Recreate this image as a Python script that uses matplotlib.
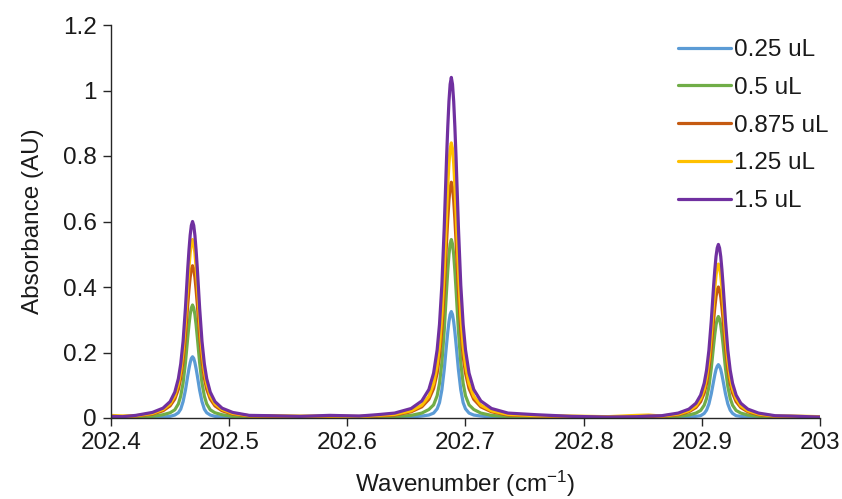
import matplotlib
matplotlib.use("Agg")
import matplotlib.pyplot as plt
from matplotlib.ticker import FuncFormatter

plt.rcParams['font.family'] = ['Liberation Sans', 'DejaVu Sans']
plt.rcParams['mathtext.default'] = 'regular'

# Wavenumber sample points (cm-1)
wavenumber = [
    202.400, 202.410,
    202.421, 202.435, 202.444, 202.450, 202.454, 202.457, 202.459, 202.461, 202.463, 202.465,
    202.466, 202.467, 202.468,
    202.469,
    202.470, 202.471, 202.472, 202.473, 202.475, 202.477, 202.479, 202.481, 202.484, 202.488,
    202.494, 202.503, 202.517,
    202.535, 202.560, 202.585, 202.610, 202.625,
    202.640, 202.654, 202.663, 202.669, 202.673, 202.676, 202.678, 202.680, 202.682, 202.684,
    202.685, 202.686, 202.687,
    202.688,
    202.689, 202.690, 202.691, 202.692, 202.694, 202.696, 202.698, 202.700, 202.703, 202.707,
    202.713, 202.722, 202.736,
    202.760, 202.790, 202.820, 202.845, 202.855,
    202.866, 202.880, 202.889, 202.895, 202.899, 202.902, 202.904, 202.906, 202.908, 202.910,
    202.911, 202.912, 202.913,
    202.914,
    202.915, 202.916, 202.917, 202.918, 202.920, 202.922, 202.924, 202.926, 202.929, 202.933,
    202.939, 202.948, 202.962,
    202.975, 202.990, 203.000,
]

abs_0_25 = [
    0.002, 0.002,
    0.001, 0.002, 0.003, 0.005, 0.009, 0.016, 0.027, 0.050, 0.085, 0.130, 0.151, 0.169, 0.182,
    0.187,
    0.182, 0.169, 0.151, 0.130, 0.085, 0.050, 0.027, 0.016, 0.009, 0.005, 0.003, 0.002, 0.001,
    0.001, 0.002, 0.003, 0.002, 0.002,
    0.002, 0.003, 0.006, 0.009, 0.015, 0.028, 0.047, 0.086, 0.148, 0.226, 0.263, 0.294, 0.316,
    0.325,
    0.316, 0.294, 0.263, 0.226, 0.148, 0.086, 0.047, 0.028, 0.015, 0.009, 0.006, 0.003, 0.002,
    0.001, 0.001, 0.001, 0.001, 0.001,
    0.001, 0.001, 0.003, 0.005, 0.007, 0.014, 0.024, 0.043, 0.074, 0.113, 0.132, 0.148, 0.158,
    0.163,
    0.158, 0.148, 0.132, 0.113, 0.074, 0.043, 0.024, 0.014, 0.007, 0.005, 0.003, 0.001, 0.001,
    0.001, 0.003, 0.002,
]

abs_0_5 = [
    0.003, 0.003,
    0.003, 0.005, 0.010, 0.016, 0.025, 0.043, 0.067, 0.107, 0.169, 0.248, 0.285, 0.316, 0.336,
    0.345,
    0.336, 0.316, 0.285, 0.248, 0.169, 0.107, 0.067, 0.043, 0.025, 0.016, 0.010, 0.005, 0.003,
    0.003, 0.003, 0.004, 0.004, 0.004,
    0.004, 0.008, 0.015, 0.026, 0.040, 0.068, 0.106, 0.169, 0.267, 0.392, 0.450, 0.499, 0.531,
    0.545,
    0.531, 0.499, 0.450, 0.392, 0.267, 0.169, 0.106, 0.068, 0.040, 0.026, 0.015, 0.008, 0.004,
    0.003, 0.002, 0.002, 0.003, 0.003,
    0.002, 0.005, 0.009, 0.015, 0.023, 0.039, 0.060, 0.096, 0.152, 0.223, 0.256, 0.284, 0.302,
    0.310,
    0.302, 0.284, 0.256, 0.223, 0.152, 0.096, 0.060, 0.039, 0.023, 0.015, 0.009, 0.005, 0.002,
    0.003, 0.002, 0.002,
]

abs_0_875 = [
    0.004, 0.005,
    0.006, 0.012, 0.022, 0.037, 0.058, 0.088, 0.122, 0.174, 0.251, 0.349, 0.393, 0.430, 0.455,
    0.465,
    0.455, 0.430, 0.393, 0.349, 0.251, 0.174, 0.122, 0.088, 0.058, 0.037, 0.022, 0.012, 0.006,
    0.005, 0.004, 0.005, 0.005, 0.006,
    0.009, 0.019, 0.034, 0.057, 0.090, 0.137, 0.189, 0.270, 0.389, 0.540, 0.608, 0.666, 0.704,
    0.720,
    0.704, 0.666, 0.608, 0.540, 0.389, 0.270, 0.189, 0.137, 0.090, 0.057, 0.034, 0.019, 0.009,
    0.006, 0.004, 0.003, 0.005, 0.005,
    0.005, 0.010, 0.019, 0.032, 0.050, 0.076, 0.105, 0.150, 0.216, 0.300, 0.338, 0.370, 0.391,
    0.400,
    0.391, 0.370, 0.338, 0.300, 0.216, 0.150, 0.105, 0.076, 0.050, 0.032, 0.019, 0.010, 0.005,
    0.004, 0.004, 0.003,
]

abs_1_25 = [
    0.008, 0.006,
    0.007, 0.014, 0.026, 0.043, 0.068, 0.104, 0.143, 0.204, 0.294, 0.409, 0.461, 0.504, 0.533,
    0.545,
    0.533, 0.504, 0.461, 0.409, 0.294, 0.204, 0.143, 0.104, 0.068, 0.043, 0.026, 0.014, 0.007,
    0.007, 0.006, 0.006, 0.004, 0.008,
    0.011, 0.022, 0.039, 0.066, 0.105, 0.160, 0.221, 0.315, 0.454, 0.630, 0.710, 0.777, 0.822,
    0.840,
    0.822, 0.777, 0.710, 0.630, 0.454, 0.315, 0.221, 0.160, 0.105, 0.066, 0.039, 0.022, 0.011,
    0.007, 0.006, 0.004, 0.008, 0.009,
    0.006, 0.012, 0.022, 0.037, 0.059, 0.089, 0.124, 0.176, 0.254, 0.353, 0.397, 0.435, 0.460,
    0.470,
    0.460, 0.435, 0.397, 0.353, 0.254, 0.176, 0.124, 0.089, 0.059, 0.037, 0.022, 0.012, 0.006,
    0.006, 0.005, 0.004,
]

abs_1_5 = [
    0.005, 0.004,
    0.008, 0.017, 0.030, 0.050, 0.079, 0.120, 0.165, 0.234, 0.336, 0.459, 0.513, 0.558, 0.588,
    0.600,
    0.588, 0.558, 0.513, 0.459, 0.336, 0.234, 0.165, 0.120, 0.079, 0.050, 0.030, 0.017, 0.008,
    0.007, 0.005, 0.008, 0.006, 0.010,
    0.015, 0.029, 0.052, 0.087, 0.137, 0.208, 0.286, 0.406, 0.582, 0.796, 0.889, 0.967, 1.019,
    1.040,
    1.019, 0.967, 0.889, 0.796, 0.582, 0.406, 0.286, 0.208, 0.137, 0.087, 0.052, 0.029, 0.015,
    0.010, 0.005, 0.003, 0.004, 0.006,
    0.007, 0.015, 0.027, 0.045, 0.070, 0.106, 0.146, 0.207, 0.297, 0.405, 0.453, 0.493, 0.519,
    0.530,
    0.519, 0.493, 0.453, 0.405, 0.297, 0.207, 0.146, 0.106, 0.070, 0.045, 0.027, 0.015, 0.007,
    0.006, 0.004, 0.003,
]

series_labels = ['0.25 uL', '0.5 uL', '0.875 uL', '1.25 uL', '1.5 uL']
series_colors = ['#5B9BD5', '#70AD47', '#C55A11', '#FFC000', '#7030A0']
series_values = [abs_0_25, abs_0_5, abs_0_875, abs_1_25, abs_1_5]

x_ticks = [202.4, 202.5, 202.6, 202.7, 202.8, 202.9, 203.0]
y_ticks = [0, 0.2, 0.4, 0.6, 0.8, 1.0, 1.2]

W, H = 842, 499
fig = plt.figure(figsize=(W / 100, H / 100), dpi=100)
ax = fig.add_axes([111 / W, 1 - 418 / H, (820 - 111) / W, (418 - 25) / H])

text_color = '#1a1a1a'
fs = 17.5
for vals, lab, col in zip(series_values, series_labels, series_colors):
    ax.plot(wavenumber, vals, color=col, lw=2.3, label=lab,
            solid_joinstyle='round', solid_capstyle='round')

ax.set_xlim(202.4, 203.0)
ax.set_ylim(0, 1.2)
ax.set_xticks(x_ticks)
ax.set_yticks(y_ticks)
fmt = FuncFormatter(lambda v, p: f"{v:g}")
ax.xaxis.set_major_formatter(fmt)
ax.yaxis.set_major_formatter(fmt)

for s in ['top', 'right']:
    ax.spines[s].set_visible(False)
for s in ['left', 'bottom']:
    ax.spines[s].set_color('#262626')
    ax.spines[s].set_linewidth(1.0)
ax.tick_params(axis='both', direction='out', length=6, width=1.0, color='#262626',
               labelsize=fs, labelcolor=text_color, pad=4)

ax.set_xlabel('Wavenumber (cm$^{-1}$)', fontsize=fs, color=text_color, labelpad=11)
ax.set_ylabel('Absorbance (AU)', fontsize=fs, color=text_color, labelpad=14)

leg = ax.legend(loc='upper left', bbox_to_anchor=(678 / W, 1 - 39 / H),
                bbox_transform=fig.transFigure, frameon=False, fontsize=fs,
                handlelength=2.2, handletextpad=0.1, labelspacing=0.65,
                borderpad=0, borderaxespad=0)
for t in leg.get_texts():
    t.set_color(text_color)

fig.savefig('out.png', dpi=100)
